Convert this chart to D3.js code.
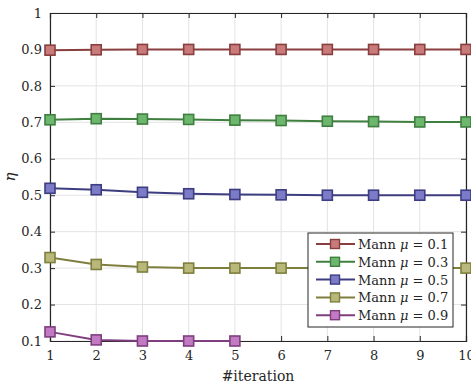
<!DOCTYPE html>
<html>
<head>
<meta charset="utf-8">
<script src="https://cdn.jsdelivr.net/npm/d3@7"></script>
<style>
  body { margin: 0; background: #fff; }
</style>
</head>
<body>
<figure id="chart" style="margin:0"></figure>
<script>
const iterations = [1, 2, 3, 4, 5, 6, 7, 8, 9, 10];
const mu = [0.1, 0.3, 0.5, 0.7, 0.9];
const eta01 = [0.898, 0.899, 0.900, 0.900, 0.900, 0.900, 0.900, 0.900, 0.900, 0.900];
const eta03 = [0.707, 0.710, 0.709, 0.708, 0.706, 0.705, 0.703, 0.702, 0.701, 0.701];
const eta05 = [0.519, 0.515, 0.508, 0.504, 0.502, 0.501, 0.500, 0.500, 0.500, 0.500];
const eta07 = [0.329, 0.310, 0.303, 0.300, 0.300, 0.300, 0.300, 0.300, 0.300, 0.300];
const eta09 = [0.125, 0.103, 0.100, 0.100, 0.100];
const yTicks = [0.1, 0.2, 0.3, 0.4, 0.5, 0.6, 0.7, 0.8, 0.9, 1];

const series = [eta01, eta03, eta05, eta07, eta09];
const lineColors = ["#8a3f3f", "#3f7f3f", "#3d3d80", "#7f7f3d", "#7f3f7f"];
const fillColors = ["#c97a7a", "#6db66d", "#7b7bc8", "#b8b87a", "#c27ac2"];

const width = 471, height = 385;
const margin = { top: 13, right: 5, bottom: 44, left: 50 };
const w = width - margin.left - margin.right;
const h = height - margin.top - margin.bottom;
const serif = "DejaVu Serif";

const svg = d3.select("figure#chart")
  .append("svg")
  .attr("width", width)
  .attr("height", height)
  .append("g")
  .attr("transform", "translate(" + margin.left + "," + margin.top + ")");

const x = d3.scaleLinear().domain([1, 10]).range([0, w]);
const y = d3.scaleLinear().domain([0.1, 1]).range([h, 0]);

// grid
svg.append("g")
  .selectAll("line.gx")
  .data(iterations)
  .enter().append("line")
  .attr("x1", d => x(d)).attr("x2", d => x(d))
  .attr("y1", 0).attr("y2", h)
  .attr("stroke", "#e3e3e3").attr("stroke-width", 1);
svg.append("g")
  .selectAll("line.gy")
  .data(yTicks)
  .enter().append("line")
  .attr("x1", 0).attr("x2", w)
  .attr("y1", d => y(d)).attr("y2", d => y(d))
  .attr("stroke", "#e3e3e3").attr("stroke-width", 1);

// axes (ticks inward)
const xAxis = svg.append("g")
  .attr("transform", "translate(0," + h + ")")
  .call(d3.axisBottom(x).tickValues(iterations).tickSize(-5).tickPadding(10).tickFormat(d3.format("d")));
const xTop = svg.append("g")
  .call(d3.axisTop(x).tickValues(iterations).tickSize(-5).tickFormat(""));
const yAxis = svg.append("g")
  .call(d3.axisLeft(y).tickValues(yTicks).tickSize(-5).tickPadding(8).tickFormat(d => d === 1 ? "1" : d3.format(".1f")(d)));
const yRight = svg.append("g")
  .attr("transform", "translate(" + w + ",0)")
  .call(d3.axisRight(y).tickValues(yTicks).tickSize(-5).tickFormat(""));

[xAxis, xTop, yAxis, yRight].forEach(a => {
  a.attr("font-family", serif).attr("font-size", 13);
  a.select(".domain").attr("stroke", "#262626").attr("stroke-width", 1.2);
  a.selectAll(".tick line").attr("stroke", "#262626");
  a.selectAll("text").attr("fill", "#262626");
});

// lines and markers
const line = d3.line()
  .x((d, i) => x(iterations[i]))
  .y(d => y(d));

series.forEach((s, k) => {
  svg.append("path")
    .datum(s)
    .attr("d", line)
    .attr("fill", "none")
    .attr("stroke", lineColors[k])
    .attr("stroke-width", 2);
  svg.selectAll("rect.m" + k)
    .data(s)
    .enter().append("rect")
    .attr("x", (d, i) => x(iterations[i]) - 5)
    .attr("y", d => y(d) - 5)
    .attr("width", 10)
    .attr("height", 10)
    .attr("fill", fillColors[k])
    .attr("stroke", lineColors[k])
    .attr("stroke-width", 1.6);
});

// axis labels
svg.append("text")
  .attr("x", w / 2)
  .attr("y", h + 40)
  .attr("text-anchor", "middle")
  .attr("fill", "#262626")
  .attr("font-family", serif)
  .attr("font-size", 14)
  .text("#iteration");

svg.append("text")
  .attr("transform", "translate(" + (-35) + "," + (h / 2) + ") rotate(-90)")
  .attr("text-anchor", "middle")
  .attr("fill", "#262626")
  .attr("font-family", serif)
  .attr("font-size", 15)
  .attr("font-style", "italic")
  .text("η");

// legend
const lg = svg.append("g")
  .attr("transform", "translate(" + (308 - margin.left) + "," + (233 - margin.top) + ")");
lg.append("rect")
  .attr("x", 0).attr("y", 0)
  .attr("width", 145).attr("height", 94)
  .attr("fill", "#fff")
  .attr("stroke", "#262626")
  .attr("stroke-width", 1);

mu.forEach((m, k) => {
  const ly = 11 + k * 17.8;
  lg.append("line")
    .attr("x1", 8).attr("x2", 47)
    .attr("y1", ly).attr("y2", ly)
    .attr("stroke", lineColors[k])
    .attr("stroke-width", 2);
  lg.append("rect")
    .attr("x", 22.5).attr("y", ly - 4.5)
    .attr("width", 9).attr("height", 9)
    .attr("fill", fillColors[k])
    .attr("stroke", lineColors[k])
    .attr("stroke-width", 1.4);
  const t = lg.append("text")
    .attr("x", 50)
    .attr("y", ly + 5)
    .attr("fill", "#262626")
    .attr("font-family", serif)
    .attr("font-size", 13);
  t.append("tspan").text("Mann ");
  t.append("tspan").attr("font-style", "italic").text("μ");
  t.append("tspan").text(" = " + m);
});
</script>
</body>
</html>
